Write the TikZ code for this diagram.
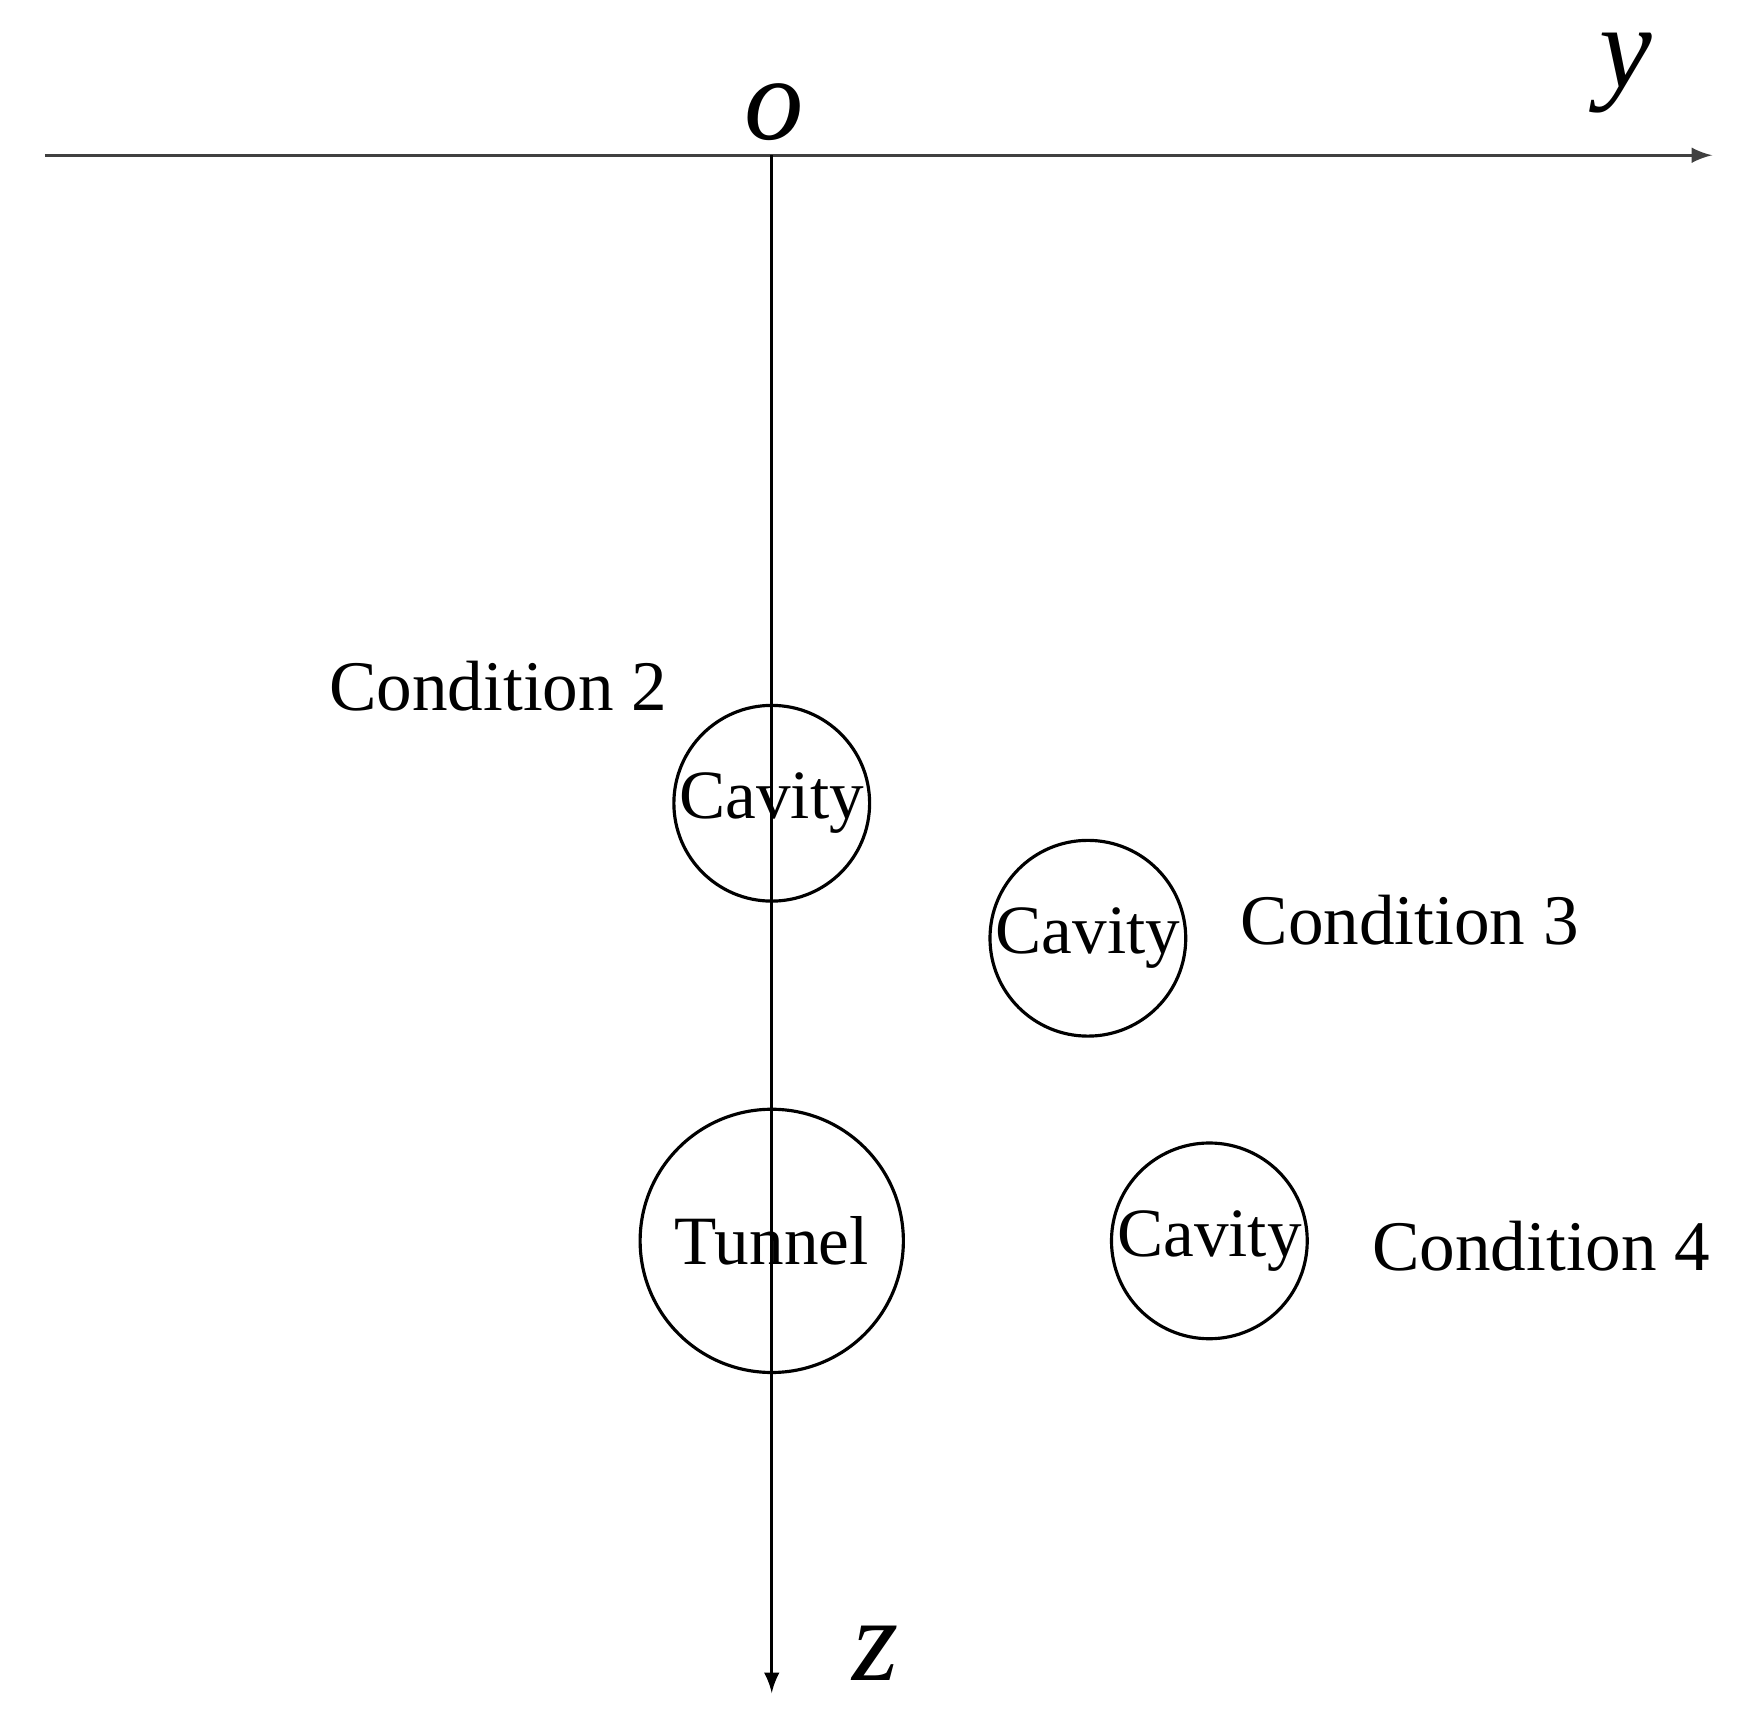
\documentclass[tikz,border=0pt]{standalone}
\usepackage{fontspec}
\setmainfont{Liberation Serif}
\usetikzlibrary{arrows,positioning}
\tikzset{axis/.style={
            thick,
            arrows=-latex},
        hole/.style={
            draw,
            circle,
            thick,
            inner sep=0pt,
            minimum size=1.74cm,
            font=\fontsize{17.5}{19}\selectfont},
        cond/.style={
            font=\fontsize{18}{20}\selectfont}
    }
\begin{document}
\begin{tikzpicture}[line join=round]
\useasboundingbox (0,0) rectangle (15.52,15.26);
\coordinate (yl) at (0.4,13.88);\coordinate (yr) at (15.22,13.88);
\coordinate (orig) at (6.86,13.88);\coordinate (zb) at (6.86,0.21);
\draw[axis,black!75](yl)--(yr);
\draw[axis](orig)--(zb);
\node (o) at (6.88,14.26) {\fontsize{30}{32}\selectfont\itshape o};
\node (y) at (14.45,14.61) {\fontsize{30}{32}\selectfont\itshape y};
\node (z) at (7.78,0.56) {\fontsize{30}{32}\selectfont\itshape z};
\node[hole] (c2) at (6.86,8.12) {Cavity};
\node[hole] (c3) at (9.67,6.92) {Cavity};
\node[hole,minimum size=2.34cm] (tun) at (6.86,4.23) {Tunnel};
\node[hole] (c4) at (10.75,4.23) {Cavity};
\node[cond] (l2) at (4.43,9.16) {Condition 2};
\node[cond] (l3) at (12.53,7.08) {Condition 3};
\node[cond] (l4) at (13.70,4.18) {Condition 4};
\end{tikzpicture}
\end{document}
